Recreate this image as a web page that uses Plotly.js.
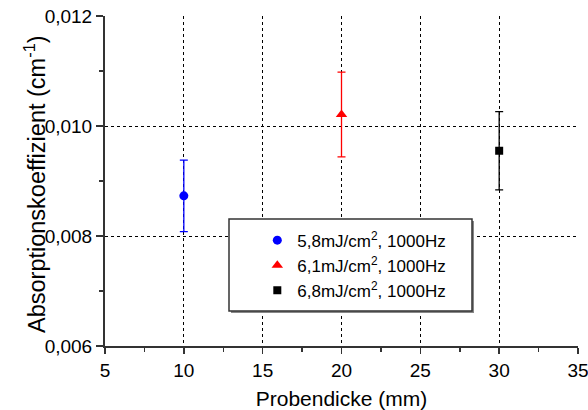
<!DOCTYPE html>
<html>
<head>
<meta charset="utf-8">
<script src="https://cdn.plot.ly/plotly-3.0.1.min.js"></script>
<style>html,body{margin:0;padding:0;background:#fff;}#chart{width:588px;height:410px;}</style>
</head>
<body>
<div id="chart"></div>
<script>
const seriesNames = ["5,8mJ/cm<sup>2</sup>, 1000Hz", "6,1mJ/cm<sup>2</sup>, 1000Hz", "6,8mJ/cm<sup>2</sup>, 1000Hz"];
const thickness = [10, 20, 30];
const absorption = [0.00873, 0.01021, 0.00955];
const errors = [0.00065, 0.00077, 0.00071];
const colors = ["#0000ff", "#ff0000", "#000000"];
const symbols = ["circle", "triangle-up", "square"];
const sizes = [9, 10, 8];
const yTitle = "Absorptionskoeffizient (cm<sup>-1</sup>)";
const xTitle = "Probendicke (mm)";

const traces = thickness.map((x, i) => ({
  x: [x], y: [absorption[i]],
  type: "scatter", mode: "markers", name: seriesNames[i],
  marker: {color: colors[i], symbol: symbols[i], size: sizes[i]},
  error_y: {type: "data", array: [errors[i]], visible: true, color: colors[i], thickness: 1.3, width: 4}
}));

const fontFam = "Liberation Sans, Arial, sans-serif";
const layout = {
  width: 588, height: 410,
  margin: {l: 105, r: 10, t: 16, b: 64},
  paper_bgcolor: "#fff", plot_bgcolor: "#fff",
  separators: ",.",
  font: {family: fontFam, size: 19, color: "#000"},
  showlegend: true,
  legend: {x: 0.322, y: 0.374, xanchor: "left", yanchor: "top", bgcolor: "rgba(0,0,0,0)", borderwidth: 0,
           font: {family: fontFam, size: 17, color: "#000"}},
  xaxis: {range: [5, 35], dtick: 5, tick0: 5, ticks: "outside", ticklen: 6, tickwidth: 1.5, tickcolor: "#333",
          showline: true, linecolor: "#333", linewidth: 2, zeroline: false, ticklabeloverflow: "allow",
          showgrid: true, gridcolor: "#000", gridwidth: 1, griddash: "dot",
          minor: {dtick: 2.5, ticks: "outside", ticklen: 4, tickcolor: "#333", showgrid: false},
          tickfont: {size: 19},
          title: {text: xTitle, font: {size: 21}, standoff: 16}},
  yaxis: {range: [0.006, 0.012], dtick: 0.002, tick0: 0.006, tickformat: ".3f", ticks: "outside", ticklen: 7, tickwidth: 1.5, tickcolor: "#333",
          showline: true, linecolor: "#333", linewidth: 2, zeroline: false, ticklabeloverflow: "allow",
          showgrid: true, gridcolor: "#000", gridwidth: 1, griddash: "dot",
          minor: {dtick: 0.001, ticks: "outside", ticklen: 4, tickcolor: "#333", showgrid: false},
          tickfont: {size: 19}},
  xaxis2: {overlaying: "x", side: "top", range: [5, 35], dtick: 5, tick0: 5, ticks: "inside", ticklen: 6, tickcolor: "#000",
           showline: true, linecolor: "#000", linewidth: 1, showgrid: false, zeroline: false, showticklabels: false,
           minor: {dtick: 2.5, ticks: "inside", ticklen: 4, tickcolor: "#000"}},
  yaxis2: {overlaying: "y", side: "right", range: [0.006, 0.012], dtick: 0.002, tick0: 0.006, ticks: "inside", ticklen: 6, tickcolor: "#000",
           showline: true, linecolor: "#555", linewidth: 2, showgrid: false, zeroline: false, showticklabels: false,
           minor: {dtick: 0.001, ticks: "inside", ticklen: 4, tickcolor: "#000"}},
  annotations: [
    {text: yTitle, xref: "paper", yref: "paper", x: (35-105)/473, y: (346-184)/330, xanchor: "center", yanchor: "middle",
     textangle: -90, showarrow: false, font: {size: 23.5, family: fontFam, color: "#000"}}
  ],
  shapes: [
    {type: "rect", xref: "paper", yref: "paper", x0: (231-105)/473, x1: (474-105)/473, y0: (346-313)/330, y1: (346-221)/330,
     line: {width: 0}, fillcolor: "#888", layer: "above"},
    {type: "rect", xref: "paper", yref: "paper", x0: (229-105)/473, x1: (472-105)/473, y0: (346-311)/330, y1: (346-219)/330,
     line: {width: 1.5, color: "#333"}, fillcolor: "#fff", layer: "above"}
  ]
};

Plotly.newPlot("chart", traces, layout, {staticPlot: true, displayModeBar: false});
</script>
</body>
</html>
